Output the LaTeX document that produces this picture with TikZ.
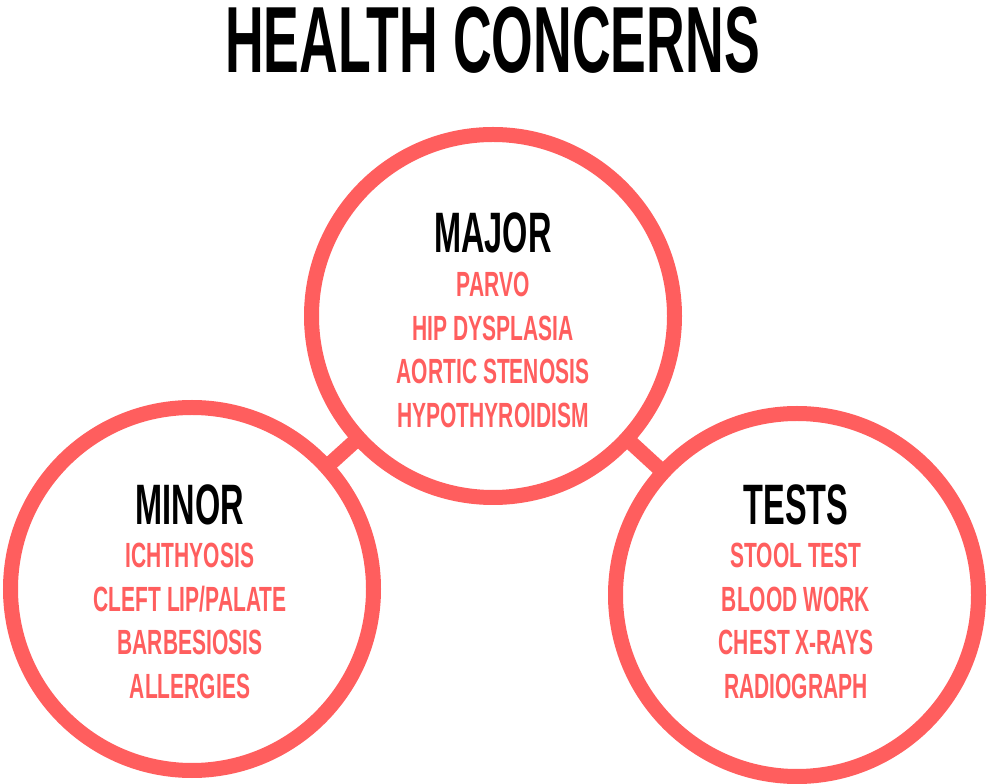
\documentclass[tikz,border=0pt]{standalone}
\usepackage{fontspec}
\setmainfont{Liberation Sans}
\newfontfamily\condfont{Liberation Sans Bold}[FakeStretch=0.57]
\newfontfamily\itemfont{Liberation Sans Bold}[FakeStretch=0.6]
\usetikzlibrary{positioning}
\definecolor{coral}{RGB}{255,94,94}

\begin{document}
\begin{tikzpicture}[x=1bp,y=1bp,
  ring/.style={circle,draw=coral,line width=15bp,minimum size=363bp,inner sep=0pt},
  link/.style={draw=coral,line width=15bp,shorten <=-4bp,shorten >=-4bp},
  title/.style={font=\condfont\fontsize{94bp}{94bp}\selectfont,text=black,inner sep=0pt},
  head/.style={font=\condfont\fontsize{57bp}{57bp}\selectfont,text=black,inner sep=0pt},
  items/.style={font=\itemfont\fontsize{35bp}{43.5bp}\selectfont,text=coral,align=center,inner sep=0pt}]
%%
\fill[white] (0bp,0bp) rectangle (987bp,784bp);
\useasboundingbox (0bp,0bp) rectangle (987bp,784bp);
\node (title) at (492.5bp,711bp) [title,anchor=base] {HEALTH CONCERNS};
  \node (major) at (493bp,468bp) [ring] {};
  \node (minor) at (192bp,195bp) [ring] {};
  \node (tests) at (797bp,189bp) [ring] {};
  \draw [link] (minor) -- (major);
  \draw [link] (major) -- (tests);
  \node (majorhead) at (493bp,531bp) [head,anchor=base] {MAJOR};
  \node (majorlist) at (493bp,512bp) [items,anchor=north] {PARVO\\HIP DYSPLASIA\\AORTIC STENOSIS\\HYPOTHYROIDISM};
  \node (minorhead) at (190bp,259bp) [head,anchor=base] {MINOR};
  \node (minorlist) at (190bp,241bp) [items,anchor=north] {ICHTHYOSIS\\CLEFT LIP/PALATE\\BARBESIOSIS\\ALLERGIES};
  \node (testshead) at (796bp,259bp) [head,anchor=base] {TESTS};
  \node (testslist) at (796bp,241bp) [items,anchor=north] {STOOL TEST\\BLOOD WORK\\CHEST X-RAYS\\RADIOGRAPH};
%
\end{tikzpicture}
\end{document}
